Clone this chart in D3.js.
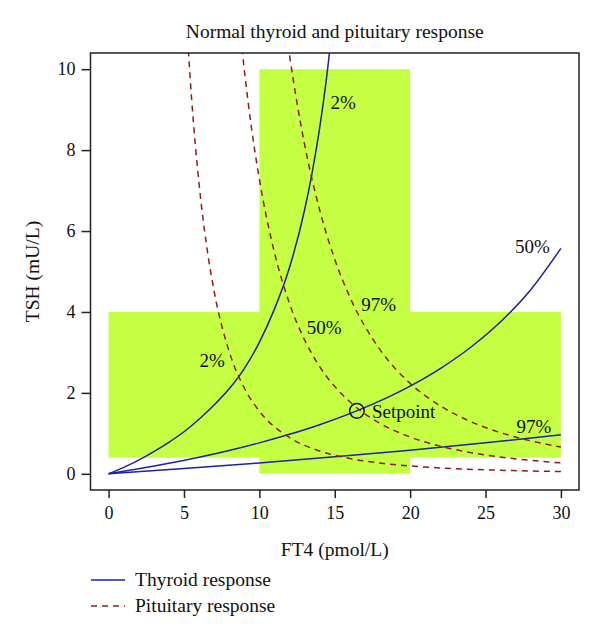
<!DOCTYPE html>
<html><head><meta charset="utf-8">
<script src="https://cdn.jsdelivr.net/npm/d3@7"></script>
<style>
body{margin:0;background:#fff;}
text{font-family:"Liberation Serif","DejaVu Serif",serif;fill:#111;}
</style></head>
<body><svg id="chart" width="600" height="638"></svg>
<script>
// ---- data ----
const title = "Normal thyroid and pituitary response";
const xLabel = "FT4 (pmol/L)";
const yLabel = "TSH (mU/L)";
const xTicks = [0,5,10,15,20,25,30];
const yTicks = [0,2,4,6,8,10];

// reference ranges (green cross): [x0,x1,y0,y1]
const refRangeWide = [0,30,0.4,4];
const refRangeTall = [10,20,0,10];

// Thyroid response curves (TSH vs FT4)
const thyroid2X  = [0,1,2,3,4,5,6,7,8,9,10,11,12,13,13.5,14,14.5,15];
const thyroid2Y  = [0,0.16,0.34,0.55,0.78,1.04,1.35,1.70,2.10,2.60,3.25,4.07,5.10,6.52,7.44,8.55,9.92,11.66];
const thyroid50X = [0,2,4,6,8,10,12,14,16,18,20,22,24,26,28,30];
const thyroid50Y = [0,0.124,0.26,0.411,0.578,0.765,0.976,1.214,1.487,1.801,2.168,2.602,3.122,3.757,4.551,5.572];
const thyroid97X = [0,5,10,15,20,25,30];
const thyroid97Y = [0,0.129,0.268,0.42,0.585,0.766,0.964];

// Pituitary response curves
const pit2X  = [5.2,5.5,6,6.5,7,8,9,10,12,14,16,18,20,22,25,28,30];
const pit2Y  = [11.01,9.30,7.17,5.64,4.51,3.02,2.12,1.548,0.896,0.564,0.378,0.265,0.194,0.145,0.099,0.07,0.057];
const pit50X = [8.7,9,9.5,10,11,12,13,14,16,18,20,22,25,28,30];
const pit50Y = [11.06,9.99,8.49,7.28,5.47,4.21,3.31,2.65,1.78,1.25,0.91,0.684,0.466,0.332,0.27];
const pit97X = [11.9,12,12.5,13,14,15,16,18,20,22,24,26,28,30];
const pit97Y = [10.61,10.35,9.16,8.14,6.52,5.30,4.37,3.07,2.235,1.679,1.294,1.017,0.815,0.662];

const setpoint = [16.47, 1.556];
const curveLabels = [
  {t:"2%",  x:14.72, y:9.02},
  {t:"50%", x:26.95, y:5.45},
  {t:"97%", x:27.05, y:1.01},
  {t:"2%",  x:6.03,  y:2.64},
  {t:"50%", x:13.15, y:3.45},
  {t:"97%", x:16.76, y:4.02},
  {t:"Setpoint", x:17.47, y:1.38}
];
const legendItems = ["Thyroid response","Pituitary response"];

// ---- layout ----
const svg = d3.select("#chart");
const L=90.5, R=579, T=53, B=490;
const x = d3.scaleLinear().domain([-1.2,31.2]).range([L,R]);
const y = d3.scaleLinear().domain([-0.4,10.4]).range([B,T]);
const blue = "#1c22a8", red = "#8e1b1b", green = "#c4ff44";

svg.append("defs").append("clipPath").attr("id","clip")
  .append("rect").attr("x",L).attr("y",T).attr("width",R-L).attr("height",B-T);

const g = svg.append("g").attr("clip-path","url(#clip)");
[refRangeWide, refRangeTall].forEach(r=>{
  g.append("rect").attr("x",x(r[0])).attr("y",y(r[3]))
   .attr("width",x(r[1])-x(r[0])).attr("height",y(r[2])-y(r[3]))
   .attr("fill",green);
});

const line = d3.line().x(d=>x(d[0])).y(d=>y(d[1])).curve(d3.curveMonotoneX);
const zip = (a,b)=>a.map((v,i)=>[v,b[i]]);
[[thyroid2X,thyroid2Y],[thyroid50X,thyroid50Y],[thyroid97X,thyroid97Y]].forEach(([a,b])=>{
  g.append("path").attr("d",line(zip(a,b))).attr("fill","none")
   .attr("stroke",blue).attr("stroke-width",1.5);
});
[[pit2X,pit2Y],[pit50X,pit50Y],[pit97X,pit97Y]].forEach(([a,b])=>{
  g.append("path").attr("d",line(zip(a,b))).attr("fill","none")
   .attr("stroke",red).attr("stroke-width",1.5).attr("stroke-dasharray","6,5");
});

svg.append("circle").attr("cx",x(setpoint[0])).attr("cy",y(setpoint[1])).attr("r",7.3)
  .attr("fill","none").attr("stroke","#111").attr("stroke-width",1.5);

curveLabels.forEach(d=>{
  svg.append("text").attr("x",x(d.x)).attr("y",y(d.y)).attr("font-size",19).text(d.t);
});

// frame
svg.append("rect").attr("x",L).attr("y",T).attr("width",R-L).attr("height",B-T)
  .attr("fill","none").attr("stroke","#222").attr("stroke-width",1.5);

// axes
const xa = svg.append("g").attr("transform",`translate(0,${B})`)
  .call(d3.axisBottom(x).tickValues(xTicks).tickSize(8).tickPadding(8).tickSizeOuter(0));
const ya = svg.append("g").attr("transform",`translate(${L},0)`)
  .call(d3.axisLeft(y).tickValues(yTicks).tickSize(9).tickPadding(6).tickSizeOuter(0));
[xa,ya].forEach(a=>{
  a.select(".domain").remove();
  a.selectAll("line").attr("stroke","#222").attr("stroke-width",1.5);
  a.selectAll("text").attr("font-size",18).attr("font-family","Liberation Serif, serif").attr("fill","#111");
});

svg.append("text").attr("x",(L+R)/2).attr("y",38).attr("text-anchor","middle")
  .attr("font-size",19.5).text(title);
svg.append("text").attr("x",(L+R)/2).attr("y",556).attr("text-anchor","middle")
  .attr("font-size",19.5).text(xLabel);
svg.append("text").attr("transform",`translate(39,${(T+B)/2}) rotate(-90)`)
  .attr("text-anchor","middle").attr("font-size",19.5).text(yLabel);

// legend
legendItems.forEach((t,i)=>{
  const yy = 580 + i*26;
  svg.append("line").attr("x1",91).attr("x2",125).attr("y1",yy).attr("y2",yy)
    .attr("stroke", i===0?blue:red).attr("stroke-width",1.5)
    .attr("stroke-dasharray", i===0?null:"6,5");
  svg.append("text").attr("x",135).attr("y",yy+6).attr("font-size",19.5).text(t);
});
</script></body></html>
